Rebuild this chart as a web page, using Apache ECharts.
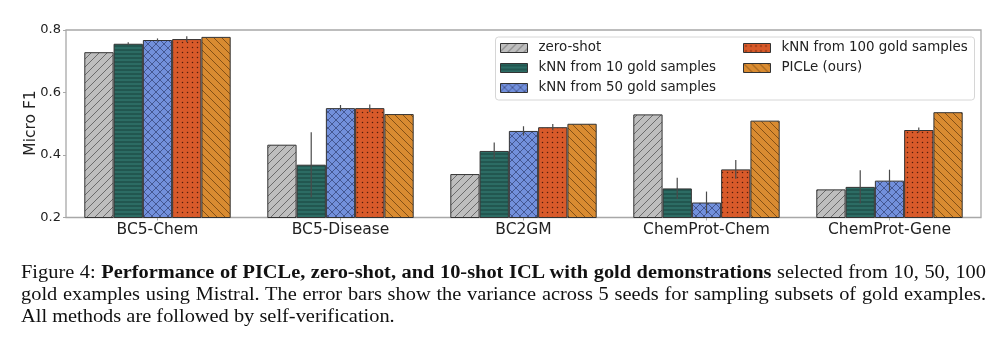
<!DOCTYPE html>
<html>
<head>
<meta charset="utf-8">
<script src="https://cdn.jsdelivr.net/npm/echarts@6/dist/echarts.min.js"></script>
<style>
html,body{margin:0;padding:0;background:#fff;}
#chart{position:absolute;left:0;top:0;width:1000px;height:347px;}
#caption{position:absolute;left:21px;top:261px;width:965px;font-family:'Liberation Serif','Times New Roman',serif;font-size:20.4px;line-height:24.4px;color:#111;transform:scale(1,0.9);transform-origin:0 0;}
.j{text-align:justify;text-align-last:justify;white-space:nowrap;}
</style>
</head>
<body>
<div id="chart"></div>
<div id="caption"></div>
<script>
// ---- data ----
const categories = ['BC5-Chem', 'BC5-Disease', 'BC2GM', 'ChemProt-Chem', 'ChemProt-Gene'];
const seriesNames = ['zero-shot', 'kNN from 10 gold samples', 'kNN from 50 gold samples', 'kNN from 100 gold samples', 'PICLe (ours)'];
const zeroShot  = [0.729, 0.433, 0.339, 0.530, 0.290];
const knn10     = [0.756, 0.369, 0.413, 0.293, 0.298];
const knn10Err  = [0.005, 0.104, 0.027, 0.034, 0.053];
const knn50     = [0.768, 0.550, 0.477, 0.248, 0.318];
const knn50Err  = [0.005, 0.010, 0.015, 0.035, 0.035];
const knn100    = [0.771, 0.550, 0.489, 0.354, 0.480];
const knn100Err = [0.009, 0.012, 0.010, 0.030, 0.008];
const picle     = [0.778, 0.531, 0.500, 0.510, 0.537];
const yTicks = [0.2, 0.4, 0.6, 0.8];

const captionLines = [
  'Figure 4: <b>Performance of PICLe, zero-shot, and 10-shot ICL with gold demonstrations</b> selected from 10, 50, 100',
  'gold examples using Mistral. The error bars show the variance across 5 seeds for sampling subsets of gold examples.',
  'All methods are followed by self-verification.'
];
</script>
<script>
// caption as real text
(function(){
  const cap = document.getElementById('caption');
  captionLines.forEach(function(l, i){
    const d = document.createElement('div');
    d.className = i < 2 ? 'j' : '';
    d.innerHTML = l;
    cap.appendChild(d);
  });
})();

// hatch patterns
function makeTile(w, h, bg, draw){
  const c = document.createElement('canvas');
  c.width = w; c.height = h;
  const ctx = c.getContext('2d');
  ctx.fillStyle = bg; ctx.fillRect(0, 0, w, h);
  draw(ctx, w, h);
  return {image: c, repeat: 'repeat'};
}
function lines(ctx, segs, color, lw){
  ctx.strokeStyle = color; ctx.lineWidth = lw;
  ctx.beginPath();
  segs.forEach(s => { ctx.moveTo(s[0], s[1]); ctx.lineTo(s[2], s[3]); });
  ctx.stroke();
}
const hatchColor = 'rgba(20,20,20,0.55)';
const pGray = makeTile(8, 8, '#bebebe', (ctx, w, h) => lines(ctx, [[-1, h+1, w+1, -1], [-1, 1, 1, -1], [w-1, h+1, w+1, h-1]], hatchColor, 0.9));
const pTeal = makeTile(4, 4, '#2c6c64', (ctx, w, h) => lines(ctx, [[0, 2, w, 2]], 'rgba(10,30,28,0.6)', 0.9));
const pBlue = makeTile(8, 8, '#7290dc', (ctx, w, h) => lines(ctx, [[-1, h+1, w+1, -1], [-1, 1, 1, -1], [w-1, h+1, w+1, h-1], [-1, -1, w+1, h+1], [-1, h-1, 1, h+1], [w-1, -1, w+1, 1]], 'rgba(30,40,80,0.6)', 0.9));
const pRed = makeTile(5, 5, '#d85a2a', (ctx, w, h) => { ctx.fillStyle = 'rgba(40,10,0,0.75)'; ctx.beginPath(); ctx.arc(2.5, 2.5, 0.75, 0, Math.PI*2); ctx.fill(); });
const pOrange = makeTile(8, 8, '#d98b31', (ctx, w, h) => lines(ctx, [[-1, -1, w+1, h+1], [-1, h-1, 1, h+1], [w-1, -1, w+1, 1]], 'rgba(60,30,0,0.6)', 0.9));

const patterns = [pGray, pTeal, pBlue, pRed, pOrange];
const values = [zeroShot, knn10, knn50, knn100, picle];
const errors = [null, knn10Err, knn50Err, knn100Err, null];

const chart = echarts.init(document.getElementById('chart'), null, {renderer: 'canvas'});

const series = [];
values.forEach(function(v, i){
  series.push({
    name: seriesNames[i],
    type: 'bar',
    data: v,
    barGap: '0%',
    barCategoryGap: '20%',
    itemStyle: {color: patterns[i], borderColor: '#333', borderWidth: 1},
    emphasis: {disabled: true},
    z: 2
  });
});
errors.forEach(function(e, i){
  if (!e) return;
  series.push({
    type: 'custom',
    name: 'err' + i,
    data: e.map((err, k) => [k, values[i][k], err]),
    z: 5,
    silent: true,
    renderItem: function(params, api){
      const k = api.value(0), val = api.value(1), err = api.value(2);
      const band = api.size([1, 0])[0];
      const bw = band * 0.8 / 5;
      const c = api.coord([k, val]);
      const x = c[0] + (i - 2) * bw;
      const top = api.coord([k, val + err])[1];
      const bot = api.coord([k, val - err])[1];
      return {type: 'line', shape: {x1: x, y1: top, x2: x, y2: bot}, style: {stroke: '#4a4a4a', lineWidth: 1.2}};
    }
  });
});

const legendCommon = {
  orient: 'vertical', padding: 0, itemWidth: 27, itemHeight: 9, itemGap: 6,
  textStyle: {fontFamily: 'DejaVu Sans', fontSize: 13.4, color: '#222', lineHeight: 14, padding: [0, 0, 0, 6]},
  itemStyle: {borderColor: '#333', borderWidth: 1},
  selectedMode: false, icon: 'rect', top: 41
};

chart.setOption({
  animation: false,
  grid: {left: 66, right: 19, top: 30, bottom: 129.5, show: true, borderColor: '#a8a8a8', borderWidth: 1.3, backgroundColor: 'transparent'},
  xAxis: {
    type: 'category', data: categories,
    axisLine: {show: false},
    axisTick: {show: true, alignWithLabel: true, length: 3, lineStyle: {color: '#a8a8a8'}},
    axisLabel: {fontFamily: 'DejaVu Sans', fontSize: 15.5, color: '#222', margin: 4}
  },
  yAxis: {
    type: 'value', min: 0.2, max: 0.8, interval: 0.2,
    axisLine: {show: false},
    splitLine: {show: false},
    axisTick: {show: true, length: 3, lineStyle: {color: '#a8a8a8'}},
    axisLabel: {fontFamily: 'DejaVu Sans', fontSize: 13, color: '#222', margin: 5,
      formatter: v => { const t = yTicks.find(y => Math.abs(y - v) < 1e-9); return t === undefined ? '' : t.toFixed(1); }}
  },
  legend: [
    Object.assign({}, legendCommon, {left: 500, data: seriesNames.slice(0, 3)}),
    Object.assign({}, legendCommon, {left: 743, data: seriesNames.slice(3)})
  ],
  graphic: [
    {type: 'rect', left: 495, top: 36.5, z: 3, shape: {width: 479, height: 63, r: 3}, style: {fill: 'rgba(255,255,255,0.85)', stroke: '#d6d6d6', lineWidth: 1}},
    {type: 'text', x: 31, y: 123, rotation: Math.PI / 2, z: 5, style: {text: 'Micro F1', fontFamily: 'DejaVu Sans', fontSize: 15.5, fill: '#222', align: 'center', verticalAlign: 'middle'}}
  ],
  series: series
});
</script>
</body>
</html>
